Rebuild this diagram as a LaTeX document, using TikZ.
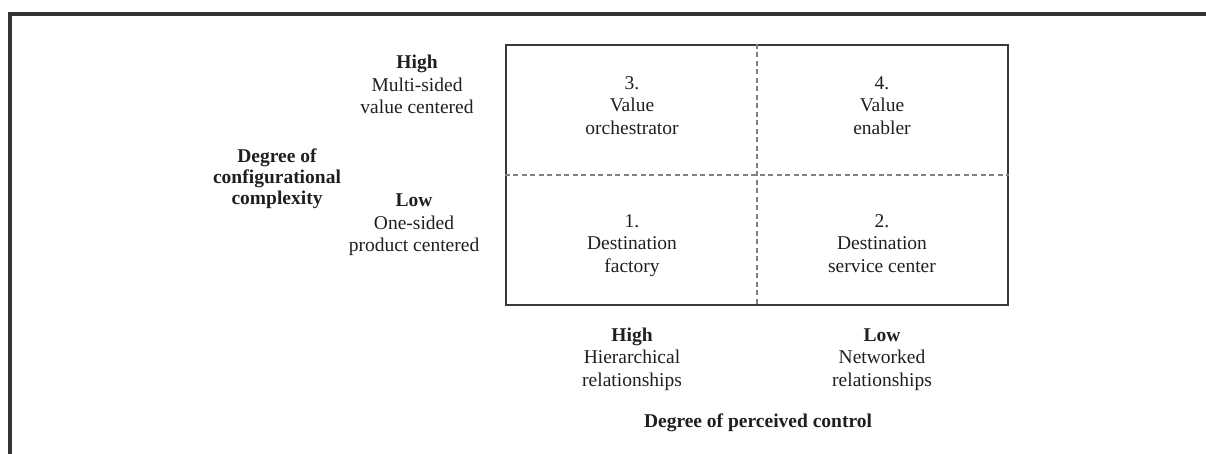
\documentclass[tikz,border=0pt]{standalone}
\usepackage{fontspec}
\setmainfont{Liberation Serif}
\begin{document}
\begin{tikzpicture}[x=1pt,y=-1pt,
  lbl/.style={align=center,text=black!88,font=\fontsize{19.5}{22.5}\selectfont,inner sep=0pt,
    execute at begin node=\strut,execute at end node=\strut},
  frameline/.style={draw=black!80,line width=4pt},
  gridbox/.style={draw=black!78,line width=2.4pt,inner sep=0pt},
  divider/.style={draw=black!50,line width=1.5pt,dash pattern=on 5pt off 3.5pt}]
\useasboundingbox (0,0) rectangle (1206,454);
% outer frame (top and left edges)
\coordinate (ftl) at (9.5,14);
\coordinate (ftr) at (1206,14);
\coordinate (fbl) at (9.5,454);
\draw[frameline] (ftr) -- (ftl) -- (fbl);
% the 2x2 matrix
\node[gridbox,minimum width=502pt,minimum height=260pt] (grid) at (757,175) {};
\draw[divider] (grid.north) -- (grid.south);
\draw[divider] (grid.west) -- (grid.east);
% quadrant labels
\node[lbl] (q3) at (632,108.5) {3.\\Value\\orchestrator};
\node[lbl] (q4) at (882,108.5) {4.\\Value\\enabler};
\node[lbl] (q1) at (632,246.5) {1.\\Destination\\factory};
\node[lbl] (q2) at (882,246.5) {2.\\Destination\\service center};
% vertical axis
\node[lbl] (yhigh) at (417,88) {\textbf{High}\\Multi-sided\\value centered};
\node[lbl] (ylow) at (414,226) {\textbf{Low}\\One-sided\\product centered};
\node[lbl,font=\fontsize{19.5}{21}\selectfont\bfseries] (ytitle) at (277,180) {Degree of\\configurational\\complexity};
% horizontal axis
\node[lbl] (xhigh) at (632,360.5) {\textbf{High}\\Hierarchical\\relationships};
\node[lbl] (xlow) at (882,360.5) {\textbf{Low}\\Networked\\relationships};
\node[lbl,font=\fontsize{19.5}{22.5}\selectfont\bfseries] (xtitle) at (758,423) {Degree of perceived control};
\end{tikzpicture}
\end{document}
